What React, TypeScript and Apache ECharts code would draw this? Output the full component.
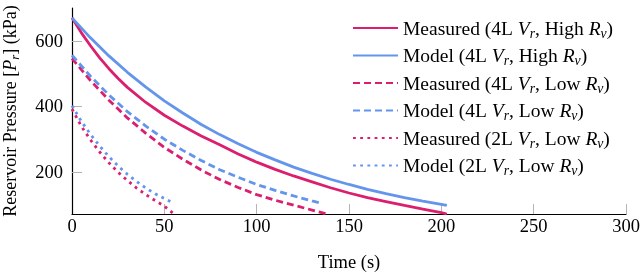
import React, { useEffect, useRef } from "react";
import * as echarts from "echarts";

const measTime4H = [0, 5, 10, 15, 20, 25, 30, 40, 50, 60, 70, 80, 90, 100, 110, 120, 130, 140, 150, 160, 170, 180, 190, 200, 203];
const meas4H = [670, 625, 585, 548, 515, 485, 458, 412, 373, 340, 310, 283, 255, 230, 208, 188, 170, 152, 136, 122, 110, 98, 87, 76, 72];
const modelTime4H = [0, 10, 20, 30, 40, 50, 60, 70, 80, 90, 100, 110, 120, 130, 140, 150, 160, 170, 180, 190, 200, 203];
const model4H = [670, 609, 554, 504, 459, 417, 380, 345, 314, 286, 260, 237, 215, 196, 178, 162, 147, 134, 122, 111, 101, 98];
const measTime4L = [0, 10, 20, 30, 40, 50, 60, 70, 80, 90, 100, 110, 120, 130, 138];
const meas4L = [546, 479, 419, 365, 318, 275, 239, 206, 177, 153, 131, 114, 99, 84, 72];
const modelTime4L = [0, 10, 20, 30, 40, 50, 60, 70, 80, 90, 100, 110, 120, 130, 135];
const model4L = [556, 492, 435, 384, 340, 300, 266, 235, 207, 184, 162, 144, 127, 112, 105];
const measTime2L = [0, 5, 10, 15, 20, 25, 30, 35, 40, 45, 50, 55];
const meas2L = [392, 340, 298, 261, 228, 199, 174, 151, 131, 113, 96, 73];
const modelTime2L = [0, 5, 10, 15, 20, 25, 30, 35, 40, 45, 50, 54];
const model2L = [402, 355, 315, 279, 247, 218, 193, 171, 151, 134, 119, 108];

const seriesNames = [
  "Measured (4L Vr, High Rv)",
  "Model (4L Vr, High Rv)",
  "Measured (4L Vr, Low Rv)",
  "Model (4L Vr, Low Rv)",
  "Measured (2L Vr, Low Rv)",
  "Model (2L Vr, Low Rv)",
];
const legendRich = [
  "Measured (4L {i|V}{s|r}, High {i|R}{s|v})",
  "Model (4L {i|V}{s|r}, High {i|R}{s|v})",
  "Measured (4L {i|V}{s|r}, Low {i|R}{s|v})",
  "Model (4L {i|V}{s|r}, Low {i|R}{s|v})",
  "Measured (2L {i|V}{s|r}, Low {i|R}{s|v})",
  "Model (2L {i|V}{s|r}, Low {i|R}{s|v})",
];
const xTicks = [0, 50, 100, 150, 200, 250, 300];
const yTicks = [200, 400, 600];

const PINK = "#dc1e6e";
const BLUE = "#6495ed";
const FONT = "Liberation Serif";
const FS = 18.5;

const pairs = (xs: number[], ys: number[]) => xs.map((x, i) => [x, ys[i]]);

const makeRich = (fs: number) => ({
  i: { fontStyle: "italic", fontFamily: FONT, fontSize: fs, color: "#000", lineHeight: 22 },
  s: { fontStyle: "italic", fontFamily: FONT, fontSize: fs * 0.7, color: "#000", lineHeight: 13, padding: [10, 0, 0, 0] },
});

export default function App() {
  const ref = useRef<HTMLDivElement>(null);
  useEffect(() => {
    if (!ref.current) return;
    const chart = echarts.init(ref.current, undefined, { renderer: "svg" });
    const mk = (name: string, data: number[][], color: string, type: any) => ({
      name,
      type: "line",
      data,
      symbol: "none",
      smooth: false,
      lineStyle: { color, width: 2.8, type, cap: "butt" },
      itemStyle: { color },
      clip: true,
    });
    chart.setOption({
      animation: false,
      textStyle: { fontFamily: FONT },
      grid: { left: 72, right: 14, top: 8, bottom: 59, containLabel: false, outerBoundsMode: "none" },
      legend: {
        orient: "vertical",
        left: 352,
        top: 16,
        padding: 0,
        itemWidth: 45,
        itemHeight: 14,
        itemGap: 3.5,
        itemStyle: { opacity: 0 },
        data: seriesNames,
        formatter: (n: string) => legendRich[seriesNames.indexOf(n)],
        textStyle: { fontFamily: FONT, fontSize: 19.5, color: "#000", lineHeight: 22, rich: makeRich(19.5) },
      },
      xAxis: {
        type: "value",
        min: 0,
        max: 300,
        interval: 50,
        name: "Time (s)",
        nameLocation: "middle",
        nameGap: 38,
        nameTextStyle: { fontFamily: FONT, fontSize: FS, color: "#000" },
        axisLine: { lineStyle: { color: "#000", width: 1.2 } },
        axisTick: { inside: true, length: 10, lineStyle: { color: "#b4b4b4", width: 1 }, customValues: xTicks.slice(1) },
        axisLabel: { fontFamily: FONT, fontSize: FS, color: "#000", margin: 2, customValues: xTicks },
        splitLine: { show: false },
      },
      yAxis: {
        type: "value",
        min: 72,
        max: 700,
        name: "Reservoir Pressure [{i|P}{s|r}] (kPa)",
        nameLocation: "middle",
        nameGap: 51,
        nameTextStyle: { fontFamily: FONT, fontSize: 18, color: "#000", lineHeight: 22, rich: makeRich(18) },
        axisLine: { show: true, lineStyle: { color: "#000", width: 1.2 } },
        axisTick: { show: true, inside: true, length: 10, lineStyle: { color: "#b4b4b4", width: 1 }, customValues: yTicks },
        axisLabel: { fontFamily: FONT, fontSize: FS, color: "#000", margin: 9, customValues: yTicks },
        splitLine: { show: false },
      },
      series: [
        mk(seriesNames[0], pairs(measTime4H, meas4H), PINK, "solid"),
        mk(seriesNames[1], pairs(modelTime4H, model4H), BLUE, "solid"),
        mk(seriesNames[2], pairs(measTime4L, meas4L), PINK, [7, 4]),
        mk(seriesNames[3], pairs(modelTime4L, model4L), BLUE, [7, 4]),
        mk(seriesNames[4], pairs(measTime2L, meas2L), PINK, [2.8, 4.4]),
        mk(seriesNames[5], pairs(modelTime2L, model2L), BLUE, [2.8, 4.4]),
      ],
    });
    return () => chart.dispose();
  }, []);
  return <div ref={ref} style={{ position: "fixed", left: 0, top: 0, width: 640, height: 273 }} />;
}
